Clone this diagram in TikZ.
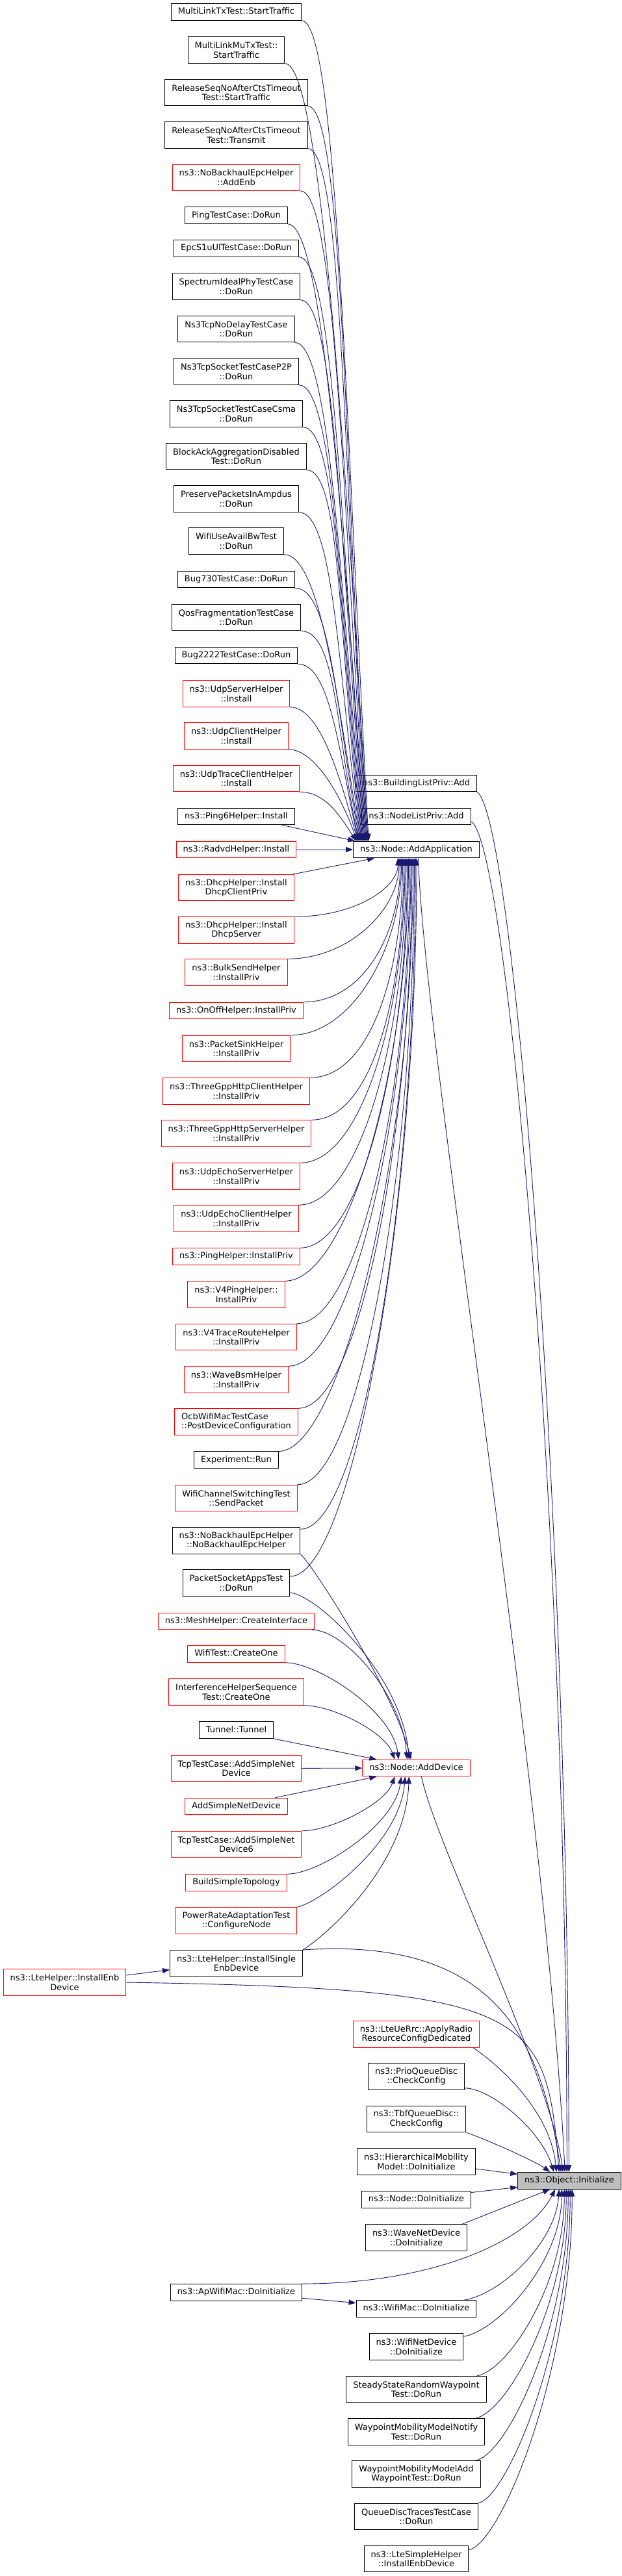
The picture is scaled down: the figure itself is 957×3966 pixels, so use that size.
\documentclass[tikz,border=0pt]{standalone}
\usepackage{fontspec}
\setmainfont{DejaVu Sans}
\usetikzlibrary{arrows.meta,calc}
\definecolor{mblue}{RGB}{25,25,112}
\definecolor{gfill}{RGB}{191,191,191}
\begin{document}
\begin{tikzpicture}[x=1pt,y=-1pt,
  base/.style={draw=black, line width=1pt, fill=white, inner xsep=10.5pt, inner ysep=0pt,
    align=center, font=\fontsize{13}{14.5}\selectfont},
  fn/.style={base, minimum height=25.5pt, text height=9.8pt, text depth=3pt},
  fn2/.style={base, minimum height=40.5pt},
  rd/.style={draw=red},
  edge/.style={draw=mblue, line width=0.9pt, -{Triangle[length=11pt,width=8pt]}}]
\fill[white] (0,0) rectangle (957,3966);
\useasboundingbox (0,0) rectangle (957,3966);
% ---------- left column ----------
\node[fn] (mltx) at (363.5,18.5) {MultiLinkTxTest::StartTraffic};
\node[fn2] (mlmu) at (363.5,77) {MultiLinkMuTxTest::\\StartTraffic};
\node[fn2] (rsst) at (363.5,142.7) {ReleaseSeqNoAfterCtsTimeout\\Test::StartTraffic};
\node[fn2] (rstx) at (363.5,208) {ReleaseSeqNoAfterCtsTimeout\\Test::Transmit};
\node[fn2,rd] (nbae) at (363.5,273.3) {ns3::NoBackhaulEpcHelper\\::AddEnb};
\node[fn] (ptc) at (363.5,331.7) {PingTestCase::DoRun};
\node[fn] (epcs) at (363.5,382.5) {EpcS1uUlTestCase::DoRun};
\node[fn2] (spec) at (363.5,441) {SpectrumIdealPhyTestCase\\::DoRun};
\node[fn2] (tcpnd) at (363.5,506.5) {Ns3TcpNoDelayTestCase\\::DoRun};
\node[fn2] (p2p) at (363.5,572) {Ns3TcpSocketTestCaseP2P\\::DoRun};
\node[fn2] (csma) at (363.5,637) {Ns3TcpSocketTestCaseCsma\\::DoRun};
\node[fn2] (baad) at (363.5,702.7) {BlockAckAggregationDisabled\\Test::DoRun};
\node[fn2] (ppia) at (363.5,768) {PreservePacketsInAmpdus\\::DoRun};
\node[fn2] (wuab) at (363.5,833) {WifiUseAvailBwTest\\::DoRun};
\node[fn] (b730) at (363.5,892) {Bug730TestCase::DoRun};
\node[fn2] (qosf) at (363.5,950.7) {QosFragmentationTestCase\\::DoRun};
\node[fn] (b2222) at (363.5,1009) {Bug2222TestCase::DoRun};
\node[fn2,rd] (udps) at (363.5,1068) {ns3::UdpServerHelper\\::Install};
\node[fn2,rd] (udpc) at (363.5,1133) {ns3::UdpClientHelper\\::Install};
\node[fn2,rd] (udpt) at (363.5,1198.5) {ns3::UdpTraceClientHelper\\::Install};
\node[fn] (ping6) at (363.5,1257) {ns3::Ping6Helper::Install};
\node[fn,rd] (radvd) at (363.5,1308) {ns3::RadvdHelper::Install};
\node[fn2,rd] (dhcpc) at (363.5,1366.7) {ns3::DhcpHelper::Install\\DhcpClientPriv};
\node[fn2,rd] (dhcps) at (363.5,1432) {ns3::DhcpHelper::Install\\DhcpServer};
\node[fn2,rd] (bulk) at (363.5,1497) {ns3::BulkSendHelper\\::InstallPriv};
\node[fn,rd] (onoff) at (363.5,1556) {ns3::OnOffHelper::InstallPriv};
\node[fn2,rd] (sink) at (363.5,1614.5) {ns3::PacketSinkHelper\\::InstallPriv};
\node[fn2,rd] (httpc) at (363.5,1680) {ns3::ThreeGppHttpClientHelper\\::InstallPriv};
\node[fn2,rd] (https) at (363.5,1745) {ns3::ThreeGppHttpServerHelper\\::InstallPriv};
\node[fn2,rd] (echos) at (363.5,1811) {ns3::UdpEchoServerHelper\\::InstallPriv};
\node[fn2,rd] (echoc) at (363.5,1876) {ns3::UdpEchoClientHelper\\::InstallPriv};
\node[fn,rd] (pingh) at (363.5,1934.5) {ns3::PingHelper::InstallPriv};
\node[fn2,rd] (v4ping) at (363.5,1993) {ns3::V4PingHelper::\\InstallPriv};
\node[fn2,rd] (v4tr) at (363.5,2058.5) {ns3::V4TraceRouteHelper\\::InstallPriv};
\node[fn2,rd] (wbsm) at (363.5,2124) {ns3::WaveBsmHelper\\::InstallPriv};
\node[fn2,rd,align=left] (ocb) at (363.5,2189) {OcbWifiMacTestCase\\::PostDeviceConfiguration};
\node[fn] (expr) at (363.5,2247.7) {Experiment::Run};
\node[fn2,rd] (wcst) at (363.5,2306.5) {WifiChannelSwitchingTest\\::SendPacket};
\node[fn2] (nbctor) at (363.5,2372) {ns3::NoBackhaulEpcHelper\\::NoBackhaulEpcHelper};
\node[fn2] (psat) at (363.5,2437) {PacketSocketAppsTest\\::DoRun};
\node[fn,rd] (mesh) at (363.5,2496) {ns3::MeshHelper::CreateInterface};
\node[fn,rd] (wtco) at (363.5,2546.5) {WifiTest::CreateOne};
\node[fn2,rd] (ihst) at (363.5,2605) {InterferenceHelperSequence\\Test::CreateOne};
\node[fn] (tun) at (363.5,2663.7) {Tunnel::Tunnel};
\node[fn2,rd] (tcpa) at (363.5,2722.5) {TcpTestCase::AddSimpleNet\\Device};
\node[fn,rd] (asnd) at (363.5,2781) {AddSimpleNetDevice};
\node[fn2,rd] (tcpa6) at (363.5,2839.5) {TcpTestCase::AddSimpleNet\\Device6};
\node[fn,rd] (bst) at (363.5,2898.5) {BuildSimpleTopology};
\node[fn2,rd] (prat) at (363.5,2957) {PowerRateAdaptationTest\\::ConfigureNode};
\node[fn2] (lsed) at (363.5,3022.7) {ns3::LteHelper::InstallSingle\\EnbDevice};
\node[fn2,rd] (led) at (99.5,3052) {ns3::LteHelper::InstallEnb\\Device};
\node[fn] (apwm) at (363.5,3529.3) {ns3::ApWifiMac::DoInitialize};
% ---------- middle column ----------
\node[fn] (bla) at (640.5,1206) {ns3::BuildingListPriv::Add};
\node[fn] (nla) at (640.5,1257) {ns3::NodeListPriv::Add};
\node[fn] (app) at (640.5,1308) {ns3::Node::AddApplication};
\node[fn,rd] (adev) at (640.5,2722) {ns3::Node::AddDevice};
\node[fn2,rd] (uerrc) at (640.5,3132) {ns3::LteUeRrc::ApplyRadio\\ResourceConfigDedicated};
\node[fn2] (prio) at (640.5,3197) {ns3::PrioQueueDisc\\::CheckConfig};
\node[fn2] (tbf) at (640.5,3262.5) {ns3::TbfQueueDisc::\\CheckConfig};
\node[fn2] (hier) at (640.5,3328) {ns3::HierarchicalMobility\\Model::DoInitialize};
\node[fn] (ndi) at (640.5,3386.5) {ns3::Node::DoInitialize};
\node[fn2] (wnd) at (640.5,3445) {ns3::WaveNetDevice\\::DoInitialize};
\node[fn] (wmdi) at (640.5,3554.5) {ns3::WifiMac::DoInitialize};
\node[fn2] (wfnd) at (640.5,3613) {ns3::WifiNetDevice\\::DoInitialize};
\node[fn2] (ssrw) at (640.5,3678.7) {SteadyStateRandomWaypoint\\Test::DoRun};
\node[fn2] (wmmn) at (640.5,3744) {WaypointMobilityModelNotify\\Test::DoRun};
\node[fn2] (wmma) at (640.5,3809) {WaypointMobilityModelAdd\\WaypointTest::DoRun};
\node[fn2] (qdtt) at (640.5,3874.5) {QueueDiscTracesTestCase\\::DoRun};
\node[fn2] (lsh) at (640.5,3939.5) {ns3::LteSimpleHelper\\::InstallEnbDevice};
% ---------- right ----------
\node[fn,fill=gfill] (init) at (876,3357.3) {ns3::Object::Initialize};
% ---------- edges to AddApplication (from above) ----------
\draw[edge] (mltx.south east) .. controls +(55,0) and +(-35,-632) .. ($(app.north west)+(24,0)$);
\draw[edge] (mlmu.south east) .. controls +(55,0) and +(-35,-599) .. ($(app.north west)+(23,0)$);
\draw[edge] (rsst.south east) .. controls +(55,0) and +(-35,-566) .. ($(app.north west)+(22,0)$);
\draw[edge] (rstx.south east) .. controls +(55,0) and +(-35,-533) .. ($(app.north west)+(21,0)$);
\draw[edge] (nbae.south east) .. controls +(55,0) and +(-35,-500) .. ($(app.north west)+(20,0)$);
\draw[edge] (ptc.south east) .. controls +(55,0) and +(-35,-475) .. ($(app.north west)+(19,0)$);
\draw[edge] (epcs.south east) .. controls +(55,0) and +(-35,-450) .. ($(app.north west)+(18,0)$);
\draw[edge] (spec.south east) .. controls +(55,0) and +(-35,-417) .. ($(app.north west)+(17,0)$);
\draw[edge] (tcpnd.south east) .. controls +(55,0) and +(-35,-384) .. ($(app.north west)+(16,0)$);
\draw[edge] (p2p.south east) .. controls +(55,0) and +(-35,-351) .. ($(app.north west)+(15,0)$);
\draw[edge] (csma.south east) .. controls +(55,0) and +(-35,-319) .. ($(app.north west)+(14,0)$);
\draw[edge] (baad.south east) .. controls +(55,0) and +(-35,-286) .. ($(app.north west)+(13,0)$);
\draw[edge] (ppia.south east) .. controls +(55,0) and +(-35,-253) .. ($(app.north west)+(12,0)$);
\draw[edge] (wuab.south east) .. controls +(55,0) and +(-35,-221) .. ($(app.north west)+(11,0)$);
\draw[edge] (b730.south east) .. controls +(55,0) and +(-35,-195) .. ($(app.north west)+(10,0)$);
\draw[edge] (qosf.south east) .. controls +(55,0) and +(-35,-162) .. ($(app.north west)+(9,0)$);
\draw[edge] (b2222.south east) .. controls +(50,0) and +(-30,-137) .. ($(app.north west)+(8,0)$);
\draw[edge] (udps.south east) .. controls +(45,0) and +(-28,-103) .. ($(app.north west)+(7,0)$);
\draw[edge] (udpc.south east) .. controls +(40,0) and +(-25,-71) .. ($(app.north west)+(6,0)$);
\draw[edge] (udpt.south east) .. controls +(40,0) and +(-25,-38) .. ($(app.north west)+(5,0)$);
\draw[edge] ($(ping6.south east)+(-20,0)$) -- ($(app.north west)+(3,0)$);
\draw[edge] (radvd) -- (app);
\draw[edge] ($(dhcpc.north east)+(-2,0)$) -- ($(app.south west)+(33,0)$);
% ---------- edges to AddApplication (from below) ----------
\draw[edge] (dhcps.north east) .. controls +(95,0) and +(0,45) .. ($(app.south west)+(69,0)$);
\draw[edge] (bulk.north east) .. controls +(95,0) and +(0,78) .. ($(app.south west)+(70.8,0)$);
\draw[edge] (onoff.north east) .. controls +(95,0) and +(0,111) .. ($(app.south west)+(72.6,0)$);
\draw[edge] (sink.north east) .. controls +(95,0) and +(0,137) .. ($(app.south west)+(74.4,0)$);
\draw[edge] (httpc.north east) .. controls +(95,0) and +(0,169) .. ($(app.south west)+(76.2,0)$);
\draw[edge] (https.north east) .. controls +(95,0) and +(0,202) .. ($(app.south west)+(78,0)$);
\draw[edge] (echos.north east) .. controls +(95,0) and +(0,235) .. ($(app.south west)+(79.8,0)$);
\draw[edge] (echoc.north east) .. controls +(95,0) and +(0,267) .. ($(app.south west)+(81.6,0)$);
\draw[edge] (pingh.north east) .. controls +(95,0) and +(0,300) .. ($(app.south west)+(83.4,0)$);
\draw[edge] (v4ping.north east) .. controls +(95,0) and +(0,326) .. ($(app.south west)+(85.2,0)$);
\draw[edge] (v4tr.north east) .. controls +(95,0) and +(0,359) .. ($(app.south west)+(87,0)$);
\draw[edge] (wbsm.north east) .. controls +(95,0) and +(0,391) .. ($(app.south west)+(88.8,0)$);
\draw[edge] (ocb.north east) .. controls +(95,0) and +(0,424) .. ($(app.south west)+(90.6,0)$);
\draw[edge] (expr.north east) .. controls +(95,0) and +(0,457) .. ($(app.south west)+(92.4,0)$);
\draw[edge] (wcst.north east) .. controls +(95,0) and +(0,483) .. ($(app.south west)+(94.2,0)$);
\draw[edge] ($(nbctor.north east)+(0,3)$) .. controls +(95,0) and +(0,515) .. ($(app.south west)+(96,0)$);
\draw[edge] ($(psat.east)+(0,-10)$) .. controls +(95,0) and +(0,548) .. ($(app.south west)+(97.8,0)$);
% ---------- edges to AddDevice ----------
\draw[edge] (nbctor.south east) .. controls +(25,25) and +(-25,-100) .. ($(adev.north west)+(75,0)$);
\draw[edge] ($(psat.east)+(0,15)$) .. controls +(45,5) and +(-10,-126) .. ($(adev.north west)+(72,0)$);
\draw[edge] ($(mesh.south east)+(-4,0)$) .. controls +(50,0) and +(-8,-100) .. ($(adev.north west)+(69,0)$);
\draw[edge] (wtco.south east) .. controls +(50,0) and +(-10,-75) .. ($(adev.north west)+(56,0)$);
\draw[edge] (ihst.south east) .. controls +(45,0) and +(-15,-42) .. ($(adev.north west)+(50,0)$);
\draw[edge] (tun.south east) -- ($(adev.north west)+(22,0)$);
\draw[edge] (tcpa) -- (adev);
\draw[edge] ($(asnd.north east)+(-20,0)$) -- ($(adev.south west)+(22,0)$);
\draw[edge] (tcpa6.north east) .. controls +(45,0) and +(-15,42) .. ($(adev.south west)+(50,0)$);
\draw[edge] (bst.north east) .. controls +(50,0) and +(-10,75) .. ($(adev.south west)+(60,0)$);
\draw[edge] (prat.north east) .. controls +(40,-10) and +(-8,101) .. ($(adev.south west)+(66,0)$);
\draw[edge] (lsed.north east) .. controls +(40,-25) and +(-5,134) .. ($(adev.south west)+(72,0)$);
% ---------- other edges ----------
\draw[edge] ($(led.east)+(0,-11)$) -- ($(lsed.west)+(0,10)$);
\draw[edge] ($(apwm.east)+(0,9)$) -- ($(wmdi.west)+(0,-9)$);
% ---------- edges to Object::Initialize ----------
\draw[edge] (bla.south east) .. controls +(58,40) and +(0,-1000) .. ($(init.north west)+(79,0)$);
\draw[edge] ($(nla.east)+(0,8)$) .. controls +(56,25) and +(0,-1000) .. ($(init.north west)+(76,0)$);
\draw[edge] ($(app.south)+(3,0)$) .. controls +(10,300) and +(-30,-600) .. ($(init.north west)+(73,0)$);
\draw[edge] ($(adev.south)+(8,0)$) .. controls +(20,100) and +(-20,-150) .. ($(init.north west)+(70,0)$);
\draw[edge] (lsed.north east) .. controls +(300,-20) and +(-30,-200) .. ($(init.north west)+(67,0)$);
\draw[edge] (led.east) .. controls +(620,10) and +(-20,-250) .. ($(init.north west)+(64,0)$);
\draw[edge] ($(uerrc.south east)+(-10,0)$) .. controls +(30,20) and +(-10,-100) .. ($(init.north west)+(60,0)$);
\draw[edge] ($(prio.south east)+(0,-3)$) .. controls +(40,0) and +(-20,-65) .. ($(init.north west)+(56,0)$);
\draw[edge] (tbf.south east) .. controls +(35,12) and +(-20,-15) .. ($(init.north west)+(50,0)$);
\draw[edge] ($(hier.east)+(0,11)$) -- ($(init.west)+(0,-10)$);
\draw[edge] ($(ndi.east)+(0,-11)$) -- ($(init.west)+(0,10)$);
\draw[edge] ($(wnd.north east)+(-8,0)$) -- ($(init.south west)+(50,0)$);
\draw[edge] (apwm.north east) .. controls +(200,0) and +(-40,80) .. ($(init.south west)+(58,0)$);
\draw[edge] ($(wmdi.north east)+(-20,0)$) .. controls +(60,-10) and +(-5,80) .. ($(init.south west)+(64,0)$);
\draw[edge] ($(wfnd.north east)+(0,5)$) .. controls +(55,-10) and +(0,110) .. ($(init.south west)+(68,0)$);
\draw[edge] ($(ssrw.north east)+(-15,0)$) .. controls +(50,-10) and +(0,145) .. ($(init.south west)+(72,0)$);
\draw[edge] ($(wmmn.north east)+(-15,0)$) .. controls +(50,-10) and +(0,177) .. ($(init.south west)+(75,0)$);
\draw[edge] ($(wmma.north east)+(-8,0)$) .. controls +(50,-10) and +(0,210) .. ($(init.south west)+(78,0)$);
\draw[edge] (qdtt.north east) .. controls +(45,-10) and +(0,242) .. ($(init.south west)+(81,0)$);
\draw[edge] ($(lsh.north east)+(0,7)$) .. controls +(50,-10) and +(0,278) .. ($(init.south west)+(84,0)$);
\end{tikzpicture}
\end{document}
